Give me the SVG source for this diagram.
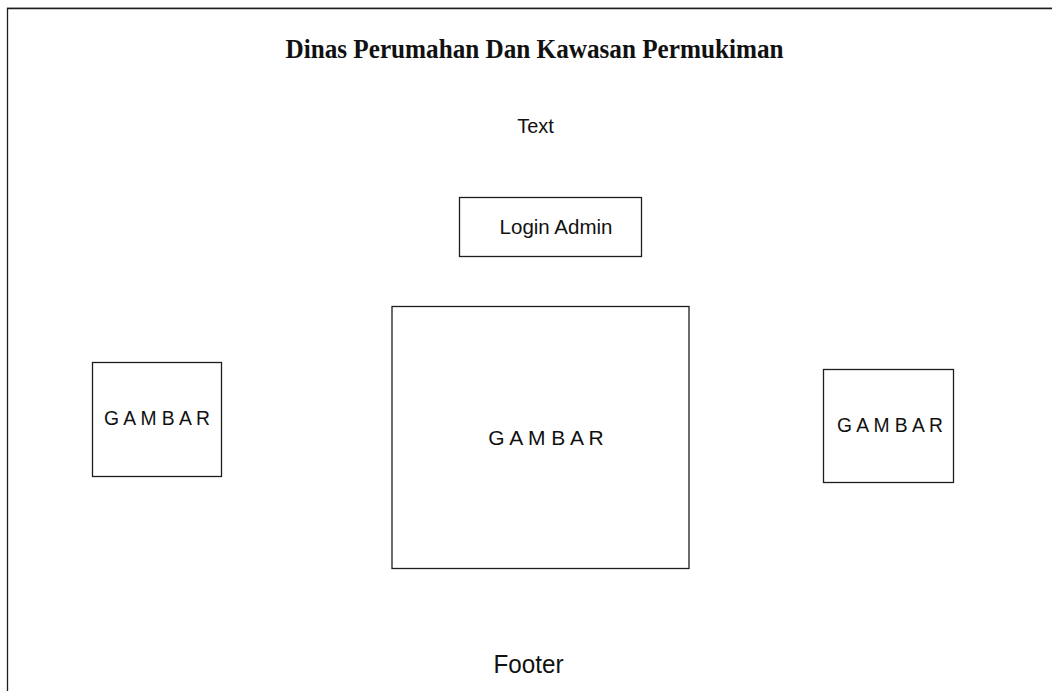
<svg xmlns="http://www.w3.org/2000/svg" width="1052" height="691" viewBox="0 0 1052 691">
  <style>
    .box { fill: #ffffff; stroke: #1e1e1e; stroke-width: 1.3; }
    .sans { font-family: "Liberation Sans", Arial, sans-serif; fill: #111111; }
    .serif { font-family: "Liberation Serif", "Times New Roman", serif; fill: #111111; font-weight: bold; }
  </style>
  <rect x="0" y="0" width="1052" height="691" fill="#ffffff"/>
  <g id="frame">
    <line x1="7" y1="7.5" x2="1052" y2="7.5" stroke="#c8c8c8" stroke-width="1"/>
    <path d="M7.5,691 V8.5 H1052" fill="none" stroke="#1e1e1e" stroke-width="1.3"/>
  </g>
  <g id="title">
    <text class="serif" x="534.5" y="58" font-size="27" text-anchor="middle" textLength="498" lengthAdjust="spacingAndGlyphs">Dinas Perumahan Dan Kawasan Permukiman</text>
  </g>
  <g id="text-label">
    <text class="sans" x="535.5" y="133" font-size="20" text-anchor="middle">Text</text>
  </g>
  <g id="login-admin">
    <rect class="box" x="459.5" y="197.5" width="182" height="59"/>
    <text class="sans" x="556" y="234" font-size="20.5" text-anchor="middle">Login Admin</text>
  </g>
  <g id="gambar-left">
    <rect class="box" x="92.5" y="362.5" width="129" height="114"/>
    <text class="sans" x="157" y="425" font-size="19.3" text-anchor="middle">G A M B A R</text>
  </g>
  <g id="gambar-center">
    <rect class="box" x="392" y="306.5" width="297" height="262"/>
    <text class="sans" x="546" y="444.5" font-size="21" text-anchor="middle">G A M B A R</text>
  </g>
  <g id="gambar-right">
    <rect class="box" x="823.5" y="369.5" width="130" height="113"/>
    <text class="sans" x="890" y="432.3" font-size="19.3" text-anchor="middle">G A M B A R</text>
  </g>
  <g id="footer">
    <text class="sans" x="528.5" y="673" font-size="26" text-anchor="middle" textLength="70" lengthAdjust="spacingAndGlyphs">Footer</text>
  </g>
  <g id="connectors"></g>
</svg>
